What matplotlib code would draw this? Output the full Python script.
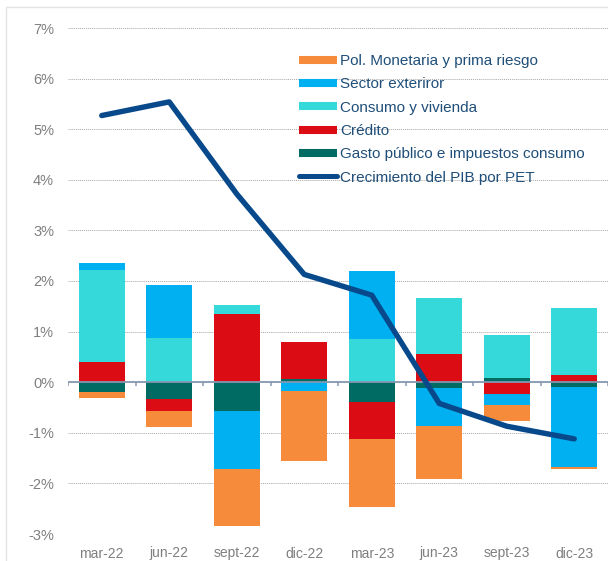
import numpy as np
import matplotlib
matplotlib.use('Agg')
import matplotlib.pyplot as plt
from matplotlib.lines import Line2D
from matplotlib.patches import Rectangle

plt.rcParams['font.family'] = ['Liberation Sans', 'DejaVu Sans']

# datos (puntos porcentuales)
fechas = ['mar-22', 'jun-22', 'sept-22', 'dic-22', 'mar-23', 'jun-23', 'sept-23', 'dic-23']
gasto = [-0.20, -0.34, -0.56, 0.06, -0.39, -0.12, 0.09, -0.09]
credito = [0.39, -0.23, 1.34, 0.74, -0.74, 0.55, -0.23, 0.15]
consumo = [1.83, 0.88, 0.19, 0.00, 0.85, 1.11, 0.85, 1.31]
exterior = [0.13, 1.04, -1.16, -0.18, 1.34, -0.74, -0.23, -1.58]
monetaria = [-0.11, -0.31, -1.12, -1.38, -1.33, -1.06, -0.31, -0.05]
pib = [5.27, 5.54, 3.72, 2.13, 1.72, -0.42, -0.87, -1.12]

nombres = ['Pol. Monetaria y prima riesgo', 'Sector exteriror', 'Consumo y vivienda',
           'Crédito', 'Gasto público e impuestos consumo']
colores = ['#F68B3B', '#00B0F0', '#35D9D9', '#DC0C15', '#006B62']
color_pib = '#07498A'

fig = plt.figure(figsize=(6.08, 5.61), dpi=100)
ax = fig.add_axes([68/608, 27/561, 1 - 68/608, (534 - 28)/561])

x = np.arange(len(fechas))
ancho = 0.68

# apilar positivos y negativos por separado (como en excel)
series = [gasto, credito, consumo, exterior, monetaria]
cols_stack = colores[::-1]
pos = np.zeros(len(fechas))
neg = np.zeros(len(fechas))
for serie, col in zip(series, cols_stack):
    v = np.array(serie)
    base = np.where(v >= 0, pos, neg)
    ax.bar(x, v, ancho, bottom=base, color=col, zorder=2, linewidth=0)
    pos = pos + np.where(v >= 0, v, 0)
    neg = neg + np.where(v < 0, v, 0)

ax.plot(x, pib, color=color_pib, lw=3.9, solid_capstyle='round',
        solid_joinstyle='round', zorder=4)

# linea del cero con marcas entre categorias
ax.axhline(0, color='#8497B0', lw=1.3, zorder=3)
ax.vlines(np.arange(len(fechas) + 1) - 0.5, -0.07, 0, color='#8497B0', lw=1.1, zorder=3)

ax.set_xlim(-0.5, len(fechas) - 0.5)
ax.set_ylim(-3, 7)
ax.set_yticks(np.arange(-3, 8))
ax.set_yticklabels([f'{v}%' for v in range(-3, 8)])
ax.set_xticks(x)
ax.set_xticklabels(fechas)
ax.tick_params(axis='both', length=0, labelsize=10, labelcolor='#7F7F7F')
ax.tick_params(axis='y', pad=10, labelsize=10.5)
ax.tick_params(axis='x', pad=9)
for v in range(-3, 8):
    if v != 0:
        ax.axhline(v, color='#A6A6A6', lw=0.7, ls=(0, (1, 1)), zorder=1)
for s in ax.spines.values():
    s.set_visible(False)

handles = [Line2D([], [], color=c, lw=5.8, solid_capstyle='butt') for c in colores]
handles.append(Line2D([], [], color=color_pib, lw=3.6, solid_capstyle='round'))
leg = fig.legend(handles, nombres + ['Crecimiento del PIB por PET'],
                 loc='upper left', bbox_to_anchor=(299/608, 1 - 54/561),
                 frameon=False, fontsize=11, handlelength=2.5, handletextpad=0.2,
                 labelspacing=0.61, borderpad=0, borderaxespad=0)
for t in leg.get_texts():
    t.set_color('#1F4E79')
leg.set_zorder(5)

# marco tenue del grafico
fig.patches.append(Rectangle((6/608, -0.1), 1, 1 - 7/561 + 0.1, transform=fig.transFigure,
                             fill=False, edgecolor='#E3E3E3', lw=1))

fig.savefig('out.png', dpi=100)
